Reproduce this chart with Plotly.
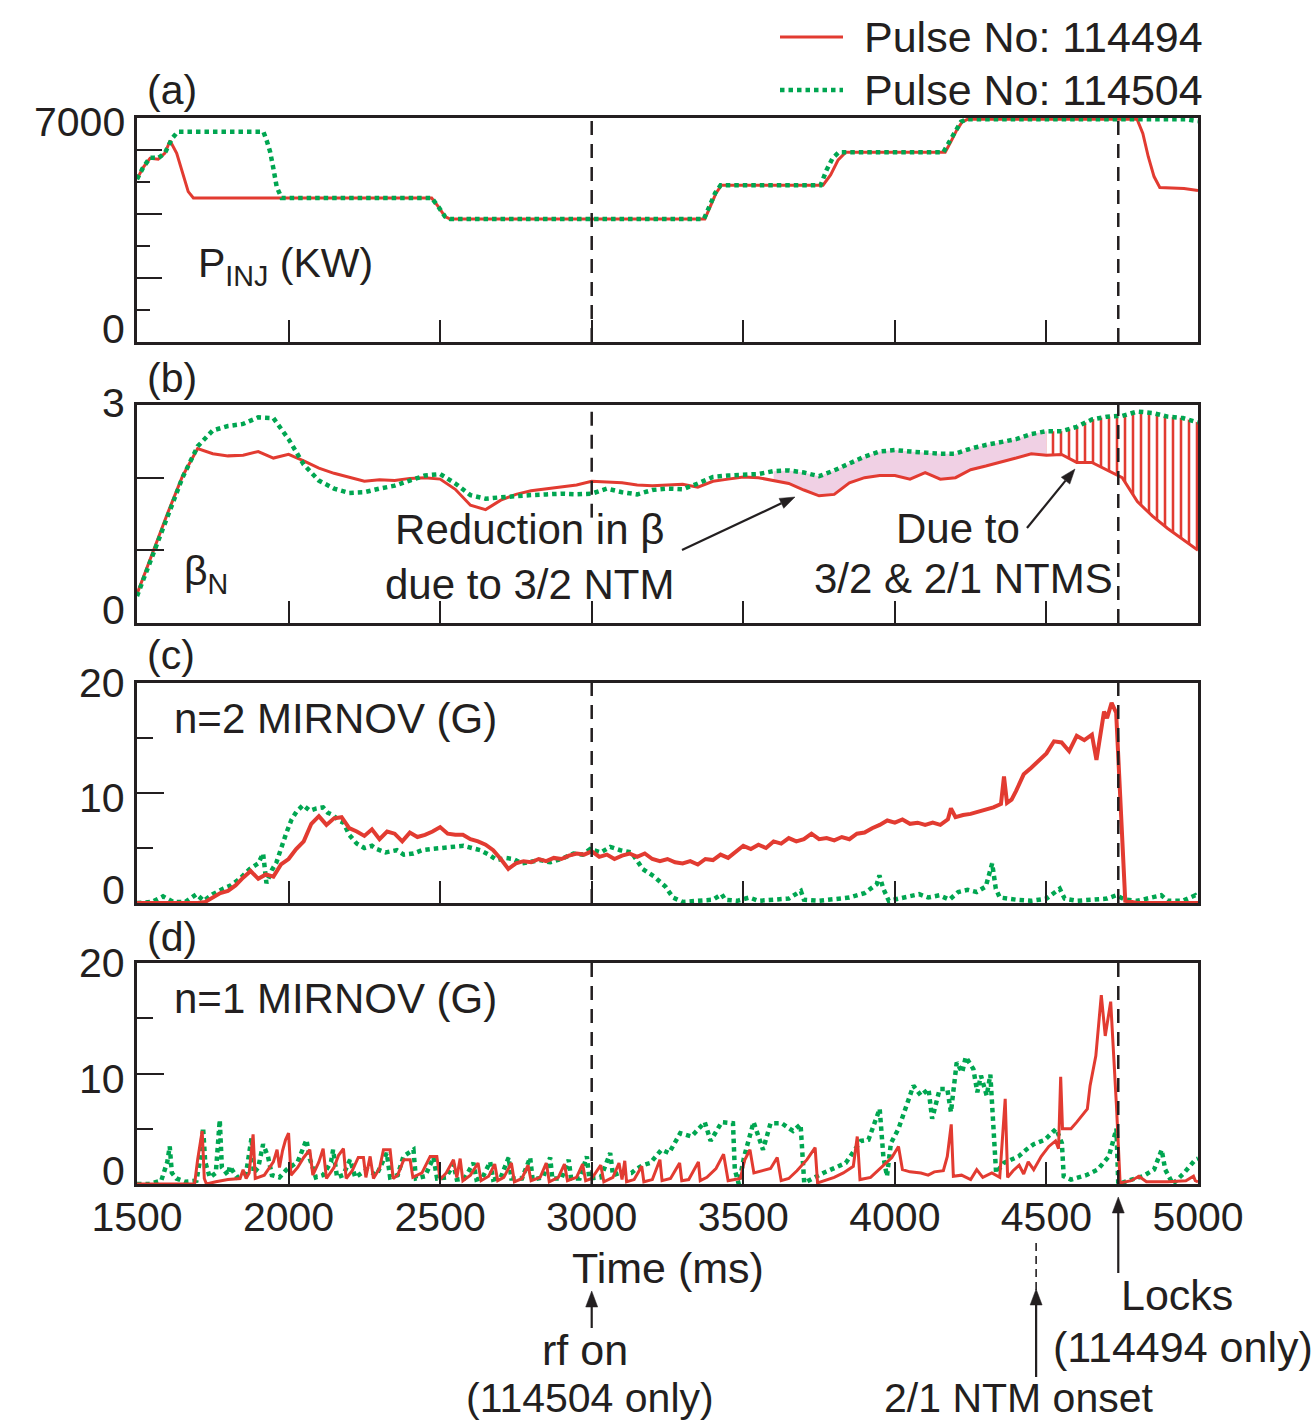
import math
import plotly.graph_objects as go

# ---------------- DATA ----------------
x_tick_labels = ["1500", "2000", "2500", "3000", "3500", "4000", "4500", "5000"]
x_tick_vals = [1500, 2000, 2500, 3000, 3500, 4000, 4500, 5000]
y_label_vals_a = [0, 7000]
y_label_vals_b = [0, 3]
y_label_vals_cd = [0, 10, 20]
event_rf_on = 3000      # rf on (114504 only)
event_lock = 4737       # Locks (114494 only)
event_ntm21 = 4466      # 2/1 NTM onset

# (a) injected power (kW)
pinj_t_494 = [1500, 1520, 1543, 1570, 1592, 1609, 1631, 1653, 1669, 1686, 2472, 2494, 2516, 2533,
              3373, 3391, 3410, 3428, 3763, 3788, 3813, 3838, 4166, 4185, 4204, 4222, 4240,
              4799, 4818, 4836, 4855, 4874, 4954, 5000]
pinj_v_494 = [5090, 5450, 5740, 5710, 5900, 6290, 5900, 5170, 4700, 4500, 4500, 4230, 3920, 3840,
              3840, 4230, 4650, 4900, 4900, 5220, 5690, 5930, 5930, 6260, 6620, 6880, 6960,
              6960, 6520, 5790, 5170, 4830, 4800, 4730]
pinj_t_504 = [1500, 1520, 1543, 1570, 1592, 1615, 1634, 1917, 1928, 1939, 1950, 1961, 1977,
              2472, 2494, 2516, 2533, 3370, 3388, 3407, 3425, 3755, 3775, 3795, 3815,
              4160, 4180, 4200, 4218, 4236, 4960, 5000]
pinj_v_504 = [5090, 5450, 5760, 5750, 5900, 6350, 6570, 6570, 6290, 5950, 5420, 4840, 4500,
              4500, 4230, 3920, 3840, 3840, 4230, 4650, 4900, 4900, 5380, 5750, 5930,
              5930, 6260, 6620, 6880, 6960, 6960, 6900]

# (b) beta_N on a common 50 ms grid
beta_t = list(range(1500, 5001, 50))
beta_494 = [0.40, 0.95, 1.50, 2.02, 2.40, 2.33, 2.30, 2.31, 2.36, 2.27,
            2.32, 2.23, 2.13, 2.06, 2.00, 1.95, 1.97, 1.96, 1.99, 2.00,
            1.98, 1.84, 1.62, 1.56, 1.69, 1.77, 1.82, 1.85, 1.87, 1.90,
            1.95, 1.94, 1.93, 1.90, 1.89, 1.90, 1.91, 1.87, 1.95, 1.98,
            2.01, 2.00, 1.96, 1.92, 1.83, 1.75, 1.77, 1.93, 2.00, 2.03,
            2.03, 1.98, 2.07, 1.98, 2.00, 2.11, 2.16, 2.21, 2.27, 2.33,
            2.31, 2.32, 2.21, 2.21, 2.10, 2.00, 1.67, 1.47, 1.30, 1.15, 1.00]
beta_504 = [0.37, 0.90, 1.45, 2.00, 2.43, 2.65, 2.71, 2.74, 2.83, 2.82,
            2.53, 2.18, 1.96, 1.85, 1.79, 1.80, 1.85, 1.89, 1.96, 2.03,
            2.05, 1.92, 1.76, 1.71, 1.73, 1.75, 1.76, 1.77, 1.78, 1.77,
            1.78, 1.85, 1.80, 1.77, 1.83, 1.85, 1.84, 1.92, 2.01, 2.03,
            2.04, 2.05, 2.09, 2.10, 2.07, 2.02, 2.10, 2.20, 2.29, 2.36,
            2.38, 2.36, 2.34, 2.33, 2.33, 2.40, 2.45, 2.49, 2.53, 2.60,
            2.64, 2.64, 2.70, 2.80, 2.84, 2.85, 2.91, 2.89, 2.84, 2.82, 2.76]
ntm32_window = [3600, 4500]   # reduction due to 3/2 NTM (shaded)
ntm21_window = [4500, 5000]   # reduction due to 3/2 & 2/1 NTMs (hatched)

# (c) n=2 Mirnov (G)
n2_t_494 = [1500, 1550, 1600, 1650, 1700, 1725, 1750, 1775, 1800, 1825, 1850, 1875, 1900, 1925, 1950,
            1975, 2000, 2025, 2050, 2075, 2100, 2125, 2150, 2175, 2200, 2225, 2250, 2275, 2300, 2325,
            2350, 2375, 2400, 2425, 2450, 2475, 2500, 2525, 2550, 2575, 2600, 2625, 2650, 2675, 2700,
            2725, 2750, 2775, 2800, 2825, 2850, 2875, 2900, 2925, 2950, 2975, 3000, 3025, 3050, 3075,
            3100, 3125, 3150, 3175, 3200, 3225, 3250, 3275, 3300, 3325, 3350, 3375, 3400, 3425, 3450,
            3475, 3500, 3525, 3550, 3575, 3600, 3625, 3650, 3675, 3700, 3725, 3750, 3775, 3800, 3825,
            3850, 3875, 3900, 3925, 3950, 3975, 4000, 4025, 4050, 4075, 4100, 4125, 4150, 4175, 4185,
            4200, 4225, 4250, 4275, 4300, 4325, 4350, 4360, 4370, 4385, 4400, 4425, 4450, 4475, 4500,
            4525, 4550, 4575, 4600, 4625, 4650, 4665, 4675, 4690, 4700, 4715, 4730, 4745, 4760, 4800,
            4850, 4900, 4950, 5000]
n2_v_494 = [0, 0, 0, 0, 0, 0.1, 0.5, 0.9, 1.1, 1.6, 2.3, 2.9, 2.2, 2.6, 2.4,
            3.5, 4.0, 4.9, 5.6, 7.2, 7.9, 7.1, 7.7, 7.8, 6.8, 6.5, 6.1, 6.7, 5.8, 6.5,
            6.3, 5.6, 6.4, 6.0, 6.2, 6.5, 6.9, 6.3, 6.2, 6.2, 5.8, 5.6, 5.3, 4.8, 4.0,
            3.1, 3.6, 3.8, 3.7, 4.0, 3.8, 4.1, 4.0, 4.3, 4.5, 4.4, 4.7, 4.2, 4.4, 4.0,
            4.3, 4.5, 4.2, 4.5, 4.0, 3.8, 4.0, 3.7, 3.6, 3.8, 3.5, 4.0, 3.9, 4.4, 4.1,
            4.7, 5.2, 4.9, 5.3, 5.0, 5.6, 5.4, 5.9, 5.6, 5.8, 6.3, 5.8, 5.9, 5.7, 6.0,
            5.8, 6.3, 6.4, 6.8, 7.1, 7.5, 7.3, 7.6, 7.2, 7.3, 7.1, 7.3, 7.1, 7.6, 8.6,
            7.8, 8.0, 8.1, 8.3, 8.5, 8.7, 9.0, 11.5, 9.1, 9.4, 10.2, 11.7, 12.3, 13.0, 13.6,
            14.7, 14.6, 13.8, 15.2, 14.8, 15.3, 13.0, 14.9, 17.4, 16.8, 18.2, 17.3, 9.0, 0.2, 0.0,
            0.0, 0.0, 0.0, 0.0]
n2_t_504 = [1500, 1550, 1586, 1620, 1660, 1696, 1720, 1750, 1784, 1810, 1839, 1872, 1900, 1916, 1927,
            1945, 1960, 1975, 1993, 2010, 2026, 2048, 2070, 2092, 2114, 2130, 2147, 2165, 2181, 2200,
            2225, 2250, 2275, 2291, 2320, 2357, 2380, 2412, 2440, 2467, 2500, 2522, 2550, 2577, 2605,
            2632, 2660, 2687, 2715, 2742, 2770, 2797, 2830, 2863, 2900, 2940, 2970, 2995, 3030, 3061,
            3094, 3131, 3168, 3206, 3243, 3268, 3300, 3350, 3400, 3429, 3440, 3480, 3520, 3550, 3600,
            3650, 3690, 3700, 3750, 3800, 3850, 3900, 3940, 3949, 3962, 3980, 4020, 4050, 4080, 4110,
            4147, 4180, 4209, 4240, 4270, 4300, 4321, 4333, 4346, 4400, 4450, 4500, 4530, 4544, 4560,
            4600, 4650, 4700, 4730, 4760, 4800, 4879, 4900, 4950, 4991, 5000]
n2_v_504 = [0, 0.1, 0.6, 0.1, 0.1, 0.8, 0.2, 0.8, 1.3, 1.6, 2.2, 3.1, 3.6, 4.5, 1.8,
            3.0, 3.7, 5.0, 6.4, 7.6, 8.3, 8.9, 8.4, 8.6, 8.7, 8.2, 8.0, 7.5, 7.3, 6.2,
            5.4, 5.0, 5.2, 4.9, 4.6, 4.8, 4.4, 4.5, 4.8, 4.9, 5.0, 5.1, 5.2, 5.2, 5.0,
            4.8, 4.4, 3.9, 4.1, 4.0, 3.6, 3.7, 3.9, 3.7, 4.0, 4.5, 4.4, 4.9, 4.6, 5.1,
            4.8, 4.6, 3.1, 2.4, 1.5, 0.5, 0.1, 0.2, 0.3, 0.8, 0.3, 0.2, 0.5, 0.2, 0.3,
            0.4, 1.1, 0.3, 0.2, 0.3, 0.5, 0.9, 1.7, 2.5, 1.3, 0.2, 0.4, 0.6, 0.8, 0.5,
            0.7, 0.3, 1.0, 1.2, 1.0, 1.5, 3.6, 1.3, 0.5, 0.3, 0.2, 0.4, 1.0, 1.3, 0.4,
            0.2, 0.3, 0.4, 0.7, 0.3, 0.2, 0.7, 0.2, 0.2, 0.7, 0.4]

# (d) n=1 Mirnov (G)
n1_t_494 = [1500, 1690, 1700, 1715, 1722, 1729, 1760, 1800, 1840, 1850, 1860, 1870, 1883, 1890, 1920,
            1950, 1962, 1970, 1980, 1990, 2000, 2008, 2030, 2050, 2070, 2080, 2100, 2114, 2125, 2150,
            2165, 2181, 2190, 2210, 2230, 2247, 2255, 2269, 2280, 2300, 2313, 2335, 2345, 2360, 2380,
            2401, 2410, 2440, 2467, 2489, 2500, 2520, 2544, 2555, 2566, 2575, 2600, 2625, 2635, 2660,
            2680, 2690, 2710, 2735, 2745, 2770, 2790, 2800, 2830, 2850, 2860, 2890, 2910, 2920, 2950,
            2970, 2980, 3000, 3030, 3040, 3070, 3090, 3100, 3109, 3115, 3140, 3165, 3172, 3200, 3225,
            3232, 3260, 3290, 3297, 3320, 3352, 3358, 3380, 3410, 3435, 3450, 3490, 3505, 3522, 3535,
            3560, 3590, 3612, 3625, 3650, 3677, 3710, 3737, 3745, 3770, 3800, 3830, 3863, 3876, 3885,
            3920, 3962, 3990, 4012, 4025, 4050, 4086, 4110, 4130, 4160, 4173, 4186, 4193, 4220, 4250,
            4270, 4290, 4320, 4346, 4364, 4372, 4390, 4410, 4425, 4440, 4458, 4483, 4508, 4530, 4540,
            4547, 4553, 4581, 4600, 4619, 4635, 4644, 4663, 4681, 4694, 4712, 4721, 4731, 4743, 4780,
            4805, 4830, 4900, 4960, 4985, 4991, 5000]
n1_v_494 = [0, 0, 2.2, 4.8, 0.5, 0, 0.2, 0.4, 0.5, 1.3, 0.5, 1.0, 4.5, 0.5, 0.8,
            2.0, 3.1, 1.5, 3.0, 4.0, 4.6, 0.8, 1.5, 2.4, 3.1, 0.8, 2.0, 3.2, 0.5, 1.5,
            2.6, 3.2, 0.5, 1.2, 2.4, 2.4, 0.6, 2.5, 0.5, 1.4, 3.1, 3.1, 0.5, 0.8, 2.2,
            2.2, 0.6, 1.0, 2.5, 2.5, 0.4, 1.0, 2.2, 0.6, 2.3, 0.3, 0.8, 1.9, 0.3, 0.7,
            1.8, 0.3, 0.6, 1.9, 0.2, 0.5, 1.7, 0.3, 0.6, 1.9, 0.2, 0.6, 1.8, 0.3, 0.6,
            1.8, 0.3, 0.5, 1.7, 0.2, 0.6, 1.9, 0.4, 2.1, 0.2, 0.4, 1.6, 0.2, 0.4, 2.2,
            0.3, 0.5, 1.9, 0.3, 0.4, 2.0, 0.3, 0.6, 1.4, 2.7, 0.3, 0.5, 2.2, 3.1, 1.0,
            1.2, 1.4, 2.4, 0.3, 0.5, 1.2, 2.2, 3.3, 0.1, 0.3, 0.6, 1.0, 1.6, 4.3, 0.4,
            0.6, 1.7, 2.4, 3.4, 1.3, 1.1, 1.0, 0.8, 1.1, 1.2, 2.5, 5.4, 0.7, 0.8, 0.4,
            1.3, 0.6, 1.0, 0.6, 7.7, 0.6, 1.2, 1.7, 0.9, 2.0, 1.3, 2.5, 3.4, 3.9, 3.2,
            9.7, 5.0, 5.0, 5.6, 6.2, 6.8, 8.9, 11.6, 17.1, 13.4, 16.5, 12.5, 7.1, 0.1, 0.3,
            0.7, 0.2, 0.2, 0.3, 0.7, 0.3, 0.2]
n1_t_504 = [1500, 1540, 1580, 1600, 1608, 1615, 1630, 1660, 1696, 1710, 1718, 1725, 1740, 1760, 1773,
            1780, 1800, 1806, 1830, 1860, 1878, 1885, 1900, 1916, 1932, 1945, 1970, 1993, 2030, 2050,
            2059, 2070, 2090, 2114, 2140, 2147, 2160, 2180, 2203, 2220, 2258, 2290, 2324, 2335, 2360,
            2379, 2412, 2420, 2450, 2478, 2490, 2520, 2544, 2555, 2580, 2610, 2620, 2640, 2665, 2675,
            2700, 2726, 2735, 2770, 2797, 2805, 2840, 2863, 2870, 2900, 2924, 2932, 2960, 2984, 2992,
            3030, 3061, 3070, 3094, 3131, 3144, 3168, 3193, 3230, 3255, 3292, 3329, 3373, 3392, 3429,
            3466, 3472, 3485, 3503, 3534, 3565, 3590, 3627, 3664, 3689, 3695, 3701, 3764, 3838, 3888,
            3913, 3950, 3962, 3974, 3987, 4012, 4036, 4061, 4086, 4111, 4123, 4148, 4173, 4185, 4204,
            4222, 4234, 4259, 4272, 4284, 4303, 4315, 4321, 4328, 4334, 4359, 4408, 4433, 4458, 4495,
            4532, 4551, 4557, 4581, 4631, 4669, 4706, 4731, 4737, 4781, 4818, 4855, 4880, 4892, 4917,
            4954, 4991, 5000]
n1_v_504 = [0, 0, 0.3, 2.0, 3.4, 1.0, 0.5, 0.2, 0.3, 2.5, 5.1, 2.0, 0.6, 1.0, 5.8,
            1.5, 0.8, 1.6, 0.6, 1.0, 4.2, 1.0, 1.5, 3.6, 2.5, 0.8, 0.6, 1.3, 2.0, 3.5,
            4.0, 2.3, 0.6, 0.8, 2.0, 3.1, 0.6, 0.8, 2.2, 0.6, 1.3, 0.8, 2.8, 0.6, 0.8,
            2.5, 3.1, 0.5, 0.7, 2.4, 0.5, 0.6, 1.8, 0.4, 0.5, 1.9, 0.4, 0.6, 2.0, 0.4,
            0.6, 2.4, 0.5, 0.5, 2.4, 0.4, 0.6, 2.4, 0.5, 0.5, 2.2, 0.5, 0.5, 2.5, 0.5,
            0.6, 2.8, 0.8, 1.0, 1.0, 1.3, 1.7, 1.9, 3.1, 2.8, 4.6, 4.3, 5.6, 3.9, 5.6,
            5.5, 1.3, 0.0, 2.5, 5.6, 3.1, 5.5, 5.5, 4.8, 5.4, 2.5, 0.1, 1.0, 1.9, 3.9,
            4.0, 6.8, 2.5, 0.7, 3.7, 5.0, 6.8, 8.9, 8.0, 8.6, 5.9, 8.6, 8.6, 6.5, 11.0,
            10.1, 11.5, 10.4, 8.3, 9.8, 8.0, 9.9, 7.1, 3.1, 1.0, 1.9, 2.5, 3.1, 3.6, 4.0,
            5.0, 3.7, 0.7, 0.4, 0.8, 1.3, 2.5, 5.0, 0.0, 0.4, 0.7, 1.3, 3.1, 1.3, 0.0,
            1.0, 2.2, 2.3]

# ---------------- STYLE ----------------
INK = "#231f20"
RED = "#e23b31"
GREEN = "#00a651"
PINK = "#f0d0e4"
FONT = "Liberation Sans, Arial, Helvetica, sans-serif"
W, H = 1316, 1424
L, R, T, B = 137, 1198, 118, 1184
X_RANGE = [1500, 5000]


def fx(p):
    return (p - L) / (R - L)


def fy(p):
    return (B - p) / (B - T)


panel_px = [(118, 342), (405, 623), (683, 903), (963, 1184)]
RED_LINE = dict(color=RED, width=3)
GREEN_LINE = dict(color=GREEN, width=4.5, dash="4.5px,4px")

fig = go.Figure()

# (a)
fig.add_trace(go.Scatter(x=pinj_t_494, y=pinj_v_494, mode="lines", line=RED_LINE, xaxis="x", yaxis="y"))
fig.add_trace(go.Scatter(x=pinj_t_504, y=pinj_v_504, mode="lines", line=GREEN_LINE, xaxis="x", yaxis="y"))


# (b) shaded regions
def window(t, v, lo, hi):
    idx = [i for i, tt in enumerate(t) if lo <= tt <= hi]
    return [t[i] for i in idx], [v[i] for i in idx]


for (lo, hi), kind in [(ntm32_window, "pink"), (ntm21_window, "hatch")]:
    tu, vu = window(beta_t, beta_504, lo, hi)
    tl, vl = window(beta_t, beta_494, lo, hi)
    fig.add_trace(go.Scatter(x=tu, y=vu, mode="lines", line=dict(width=0, color="rgba(0,0,0,0)"),
                             xaxis="x2", yaxis="y2", hoverinfo="skip"))
    if kind == "pink":
        fig.add_trace(go.Scatter(x=tl, y=vl, mode="lines", line=dict(width=0, color="rgba(0,0,0,0)"),
                                 fill="tonexty", fillcolor=PINK, xaxis="x2", yaxis="y2", hoverinfo="skip"))
    else:
        fig.add_trace(go.Scatter(x=tl, y=vl, mode="lines", line=dict(width=0, color="rgba(0,0,0,0)"),
                                 fill="tonexty", fillcolor="rgba(255,255,255,0)",
                                 fillpattern=dict(shape="|", fgcolor=RED, fgopacity=1,
                                                  bgcolor="rgba(255,255,255,0)",
                                                  size=8, solidity=0.32),
                                 xaxis="x2", yaxis="y2", hoverinfo="skip"))

fig.add_trace(go.Scatter(x=beta_t, y=beta_494, mode="lines", line=RED_LINE, xaxis="x2", yaxis="y2"))
fig.add_trace(go.Scatter(x=beta_t, y=beta_504, mode="lines", line=GREEN_LINE, xaxis="x2", yaxis="y2"))

# (c)
fig.add_trace(go.Scatter(x=n2_t_504, y=n2_v_504, mode="lines", line=GREEN_LINE, xaxis="x3", yaxis="y3"))
fig.add_trace(go.Scatter(x=n2_t_494, y=n2_v_494, mode="lines", line=dict(color=RED, width=4), xaxis="x3", yaxis="y3"))

# (d)
fig.add_trace(go.Scatter(x=n1_t_504, y=n1_v_504, mode="lines", line=GREEN_LINE, xaxis="x4", yaxis="y4"))
fig.add_trace(go.Scatter(x=n1_t_494, y=n1_v_494, mode="lines", line=dict(color=RED, width=3), xaxis="x4", yaxis="y4"))

# ---------------- AXES ----------------
tick_font = dict(family=FONT, size=41, color=INK)
layout_axes = {}
for i, (top, bot) in enumerate(panel_px, start=1):
    sfx = "" if i == 1 else str(i)
    last = i == 4
    layout_axes["xaxis" + sfx] = dict(
        domain=[0, 1], anchor="y" + sfx, range=X_RANGE,
        showgrid=False, zeroline=False, showline=True, mirror=True,
        linecolor=INK, linewidth=2.5,
        ticks="inside", ticklen=22, tickwidth=2.2, tickcolor=INK,
        tickmode="array", tickvals=x_tick_vals,
        ticktext=x_tick_labels if last else [""] * len(x_tick_vals),
        showticklabels=last, tickfont=tick_font, ticklabelstandoff=-5,
    )
    ydom = [fy(bot), fy(top)]
    if i == 1:
        yextra = dict(range=[0, 7000], tickvals=[0, 2000, 4000, 6000, 7000], ticklen=25,
                      minor=dict(tickvals=[1000, 3000, 5000], ticklen=13, ticks="inside",
                                 tickwidth=2.2, tickcolor=INK))
    elif i == 2:
        yextra = dict(range=[0, 3], tickvals=[0, 1, 2, 3], ticklen=27)
    else:
        yextra = dict(range=[0, 20], tickvals=[0, 10, 20], ticklen=27,
                      minor=dict(tickvals=[5, 15], ticklen=16, ticks="inside",
                                 tickwidth=2.2, tickcolor=INK))
    layout_axes["yaxis" + sfx] = dict(
        domain=ydom, anchor="x" + sfx,
        showgrid=False, zeroline=False, showline=True, mirror=True,
        linecolor=INK, linewidth=2.5, ticks="inside", tickwidth=2.2, tickcolor=INK,
        tickmode="array", showticklabels=False, **yextra,
    )

# ---------------- SHAPES ----------------
DASH = dict(color=INK, width=2.5, dash="14px,9px")
shapes = []
for i in range(1, 5):
    sfx = "" if i == 1 else str(i)
    for xv in (event_rf_on, event_lock):
        if i == 2 and xv == event_rf_on:
            # stops above the "Reduction in β" label
            shapes.append(dict(type="line", xref="x2", yref="y2", x0=xv, x1=xv, y0=1.45, y1=3,
                               line=DASH))
        else:
            shapes.append(dict(type="line", xref="x" + sfx, yref="y" + sfx + " domain",
                               x0=xv, x1=xv, y0=0, y1=1, line=DASH))
# dashed lead for 2/1 NTM onset marker
shapes.append(dict(type="line", xref="x4", yref="paper", x0=event_ntm21, x1=event_ntm21,
                   y0=fy(1290), y1=fy(1238), line=dict(color=INK, width=1.6, dash="8px,5px")))
# legend samples
shapes.append(dict(type="line", xref="paper", yref="paper", x0=fx(780), x1=fx(843),
                   y0=fy(37), y1=fy(37), line=dict(color=RED, width=3)))
shapes.append(dict(type="line", xref="paper", yref="paper", x0=fx(780), x1=fx(843),
                   y0=fy(90), y1=fy(90), line=GREEN_LINE))


def arrow_shapes(hx, hy, tx, ty, xref="paper", head_len=16, half_w=6, width=2.2):
    """Arrow from tail to head. x values in xref units, y values in page pixels."""
    kx = (R - L) / (X_RANGE[1] - X_RANGE[0]) if xref != "paper" else (R - L)
    hxp, txp = hx * kx, tx * kx
    dx, dy = hxp - txp, hy - ty
    n = math.hypot(dx, dy)
    ux, uy = dx / n, dy / n
    bx, by = hxp - ux * head_len, hy - uy * head_len
    lx, ly = bx - uy * half_w, by + ux * half_w
    rx, ry = bx + uy * half_w, by - ux * half_w
    out = [dict(type="line", xref=xref, yref="paper", x0=tx, y0=fy(ty), x1=bx / kx, y1=fy(by),
                line=dict(color=INK, width=width))]
    path = "M {:.6f},{:.6f} L {:.6f},{:.6f} L {:.6f},{:.6f} Z".format(
        hx, fy(hy), lx / kx, fy(ly), rx / kx, fy(ry))
    out.append(dict(type="path", xref=xref, yref="paper", path=path,
                    fillcolor=INK, line=dict(color=INK, width=0.5)))
    return out


shapes += arrow_shapes(fx(795), 497, fx(682), 550, head_len=15, half_w=5.5)
shapes += arrow_shapes(fx(1075), 469, fx(1027), 528, head_len=15, half_w=5.5)
shapes += arrow_shapes(event_rf_on, 1291, event_rf_on, 1328, xref="x4")
shapes += arrow_shapes(event_ntm21, 1289, event_ntm21, 1377, xref="x4")
shapes += arrow_shapes(event_lock, 1197, event_lock, 1273, xref="x4")


# ---------------- ANNOTATIONS ----------------
def txt(text, x, y, size=43, xanchor="center"):
    return dict(text=text, xref="paper", yref="paper", x=fx(x), y=fy(y),
                xanchor=xanchor, yanchor="middle", showarrow=False,
                font=dict(family=FONT, size=size, color=INK))


def ylab(axis, val, shift):
    return dict(text=str(val), xref="paper", yref=axis, x=fx(127), y=val, yshift=shift,
                xanchor="right", yanchor="middle", showarrow=False,
                font=dict(family=FONT, size=41, color=INK))


# y tick labels (placed on each axis' own scale, nudged as in the original)
ylabel_shift = {0: 13, 10: -5, 20: 0, 3: 2, 7000: -4}
ann = []
for axis, vals in [("y", y_label_vals_a), ("y2", y_label_vals_b),
                   ("y3", y_label_vals_cd), ("y4", y_label_vals_cd)]:
    for v in vals:
        ann.append(ylab(axis, v, ylabel_shift[v]))

ann += [
    txt("Pulse No: 114494", 862, 37, xanchor="left"),
    txt("Pulse No: 114504", 862, 90, xanchor="left"),
    txt("(a)", 145, 90, size=41, xanchor="left"),
    txt("(b)", 145, 378, size=41, xanchor="left"),
    txt("(c)", 145, 655, size=41, xanchor="left"),
    txt("(d)", 145, 937, size=41, xanchor="left"),
    txt("P<sub>INJ</sub> (KW)", 196, 266, size=41, xanchor="left"),
    txt("β<sub>N</sub>", 182, 574, size=41, xanchor="left"),
    txt("n=2 MIRNOV (G)", 172, 718, size=42, xanchor="left"),
    txt("n=1 MIRNOV (G)", 172, 998, size=42, xanchor="left"),
    txt("Reduction in β<br>due to 3/2 NTM", 529, 557, size=42),
    txt("Due to", 958, 528, size=42),
    txt("3/2 &amp; 2/1 NTMS", 963, 578, size=42),
    txt("Time (ms)", 668, 1268),
    txt("rf on", 585, 1350),
    txt("(114504 only)", 590, 1398, size=41),
    txt("2/1 NTM onset", 1018, 1398, size=41),
    txt("Locks", 1177, 1295),
    txt("(114494 only)", 1183, 1347),
]

fig.update_layout(
    width=W, height=H, autosize=False,
    margin=dict(l=L, r=W - R, t=T, b=H - B, pad=0),
    paper_bgcolor="white", plot_bgcolor="white",
    showlegend=False, font=dict(family=FONT, color=INK),
    shapes=shapes, annotations=ann, **layout_axes,
)

fig.write_html("out.html")
